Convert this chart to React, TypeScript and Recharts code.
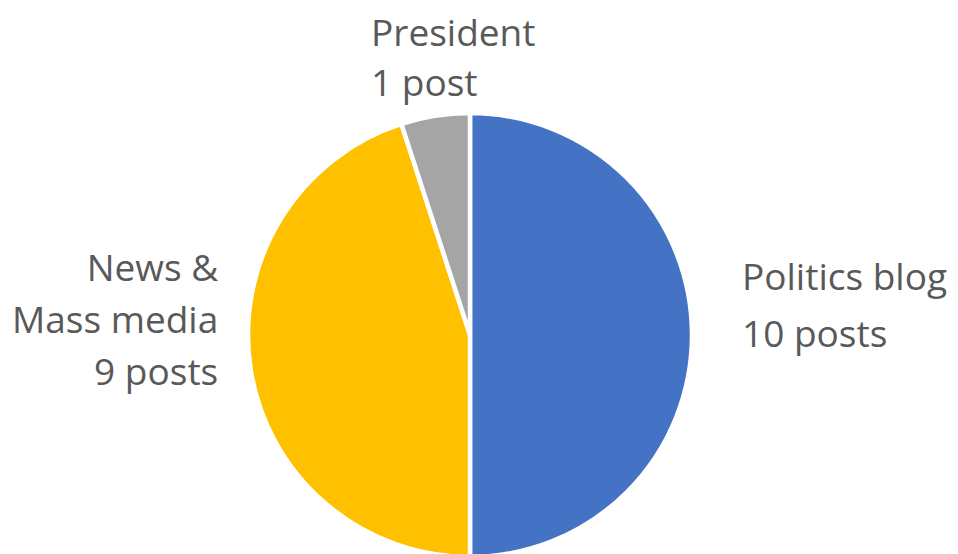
import React from 'react';
import { PieChart, Pie, Cell } from 'recharts';

const categories = ['Politics blog', 'News & Mass media', 'President'];
const posts = [10, 9, 1];
const countLabels = ['10 posts', '9 posts', '1 post'];
const nameLines = [['Politics blog'], ['News &', 'Mass media'], ['President']];
const colors = ['#4472C4', '#FFC000', '#A5A5A5'];

const data = categories.map((name, i) => ({ name, value: posts[i] }));

// label layout: offset from polar anchor, alignment, line spacing
const labelLayout = [
  { r: 50, dx: 0, dy: -45, anchor: 'start', gap: 57 },
  { r: 40, dx: 7, dy: -95, anchor: 'end', gap: 52 },
  { r: 40, dx: -58, dy: -30, anchor: 'start', gap: 50 },
];

const RADIAN = Math.PI / 180;

const renderLabel = (props: any) => {
  const { cx, cy, midAngle, outerRadius, index } = props;
  const L = labelLayout[index];
  const r = outerRadius + L.r;
  const x = cx + r * Math.cos(-midAngle * RADIAN) + L.dx;
  const y = cy + r * Math.sin(-midAngle * RADIAN) + L.dy;
  const lines = [...nameLines[index], countLabels[index]];
  return (
    <text
      x={x}
      y={y}
      textAnchor={L.anchor}
      fill="#595959"
      fontSize={37}
      fontFamily="'Open Sans', sans-serif"
    >
      {lines.map((t, i) => (
        <tspan key={i} x={x} dy={i === 0 ? 0 : L.gap}>
          {t}
        </tspan>
      ))}
    </text>
  );
};

export default function App() {
  return (
    <div style={{ position: 'absolute', left: 0, top: 0, width: 958, height: 554, background: '#fff' }}>
      <PieChart width={958} height={554} margin={{ top: 0, right: 0, bottom: 0, left: 0 }}>
        <Pie
          data={data}
          dataKey="value"
          cx={470}
          cy={335}
          outerRadius={222}
          startAngle={90}
          endAngle={-270}
          stroke="#ffffff"
          strokeWidth={4.5}
          label={renderLabel}
          labelLine={false}
          isAnimationActive={false}
        >
          {data.map((d, i) => (
            <Cell key={d.name} fill={colors[i]} />
          ))}
        </Pie>
      </PieChart>
    </div>
  );
}
